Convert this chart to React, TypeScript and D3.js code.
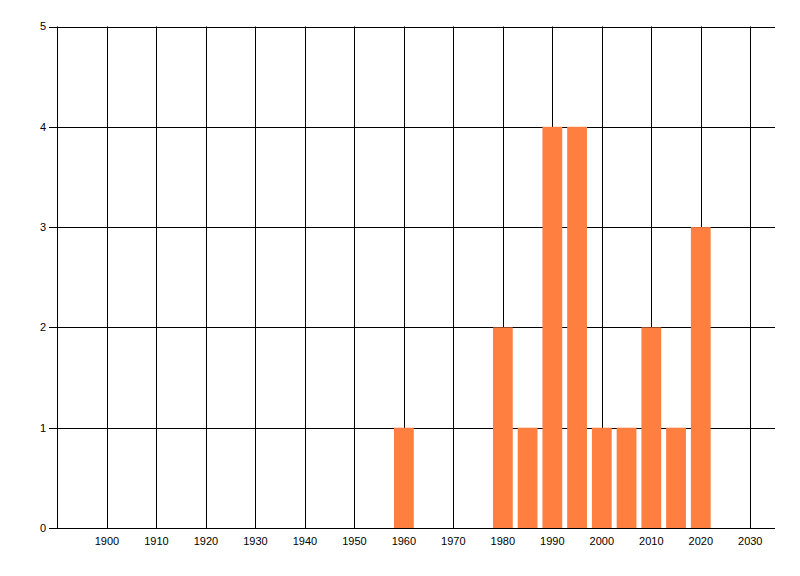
import React from "react";
import * as d3 from "d3";

const years = [1960, 1980, 1985, 1990, 1995, 2000, 2005, 2010, 2015, 2020];
const counts = [1, 2, 1, 4, 4, 1, 1, 2, 1, 3];
const xTicks = [1900, 1910, 1920, 1930, 1940, 1950, 1960, 1970, 1980, 1990, 2000, 2010, 2020, 2030];
const yTicks = [0, 1, 2, 3, 4, 5];

export default function App() {
  const W = 800, H = 576;
  const x = d3.scaleLinear().domain([1890, 2035]).range([57.5, 775]);
  const y = d3.scaleLinear().domain([0, 5]).range([528, 26.5]);
  const barW = x(1894) - x(1890);
  const font = "'Liberation Sans', 'DejaVu Sans', sans-serif";
  return (
    <svg width={W} height={H} style={{ position: "absolute", left: 0, top: 0, background: "#fff" }}>
      {/* vertical gridlines */}
      {xTicks.map((t) => (
        <line key={"vx" + t} x1={Math.round(x(t)) + 0.5} x2={Math.round(x(t)) + 0.5} y1={y(5)} y2={y(0)} stroke="#000" strokeWidth={1} />
      ))}
      {/* horizontal gridlines */}
      {yTicks.map((t) => (
        <line key={"hy" + t} x1={49} x2={775} y1={Math.round(y(t)) + 0.5} y2={Math.round(y(t)) + 0.5} stroke="#000" strokeWidth={1} />
      ))}
      {/* bars */}
      {years.map((yr, i) => (
        <rect key={yr} x={x(yr) - barW / 2} width={barW} y={y(counts[i])} height={y(0) - y(counts[i])} fill="#ff7f40" />
      ))}
      {/* axis lines */}
      <line x1={57.5} x2={57.5} y1={y(5)} y2={y(0) + 0.5} stroke="#000" />
      <line x1={57} x2={775} y1={Math.round(y(0)) + 0.5} y2={Math.round(y(0)) + 0.5} stroke="#000" />
      {yTicks.map((t) => (
        <text key={"yl" + t} x={46} y={y(t)} dy="0.35em" textAnchor="end" fontSize={11} fontFamily={font} fill="#000">{t}</text>
      ))}
      {xTicks.map((t) => (
        <text key={"xl" + t} x={x(t)} y={545} textAnchor="middle" fontSize={11} fontFamily={font} fill="#000">{t}</text>
      ))}
    </svg>
  );
}
